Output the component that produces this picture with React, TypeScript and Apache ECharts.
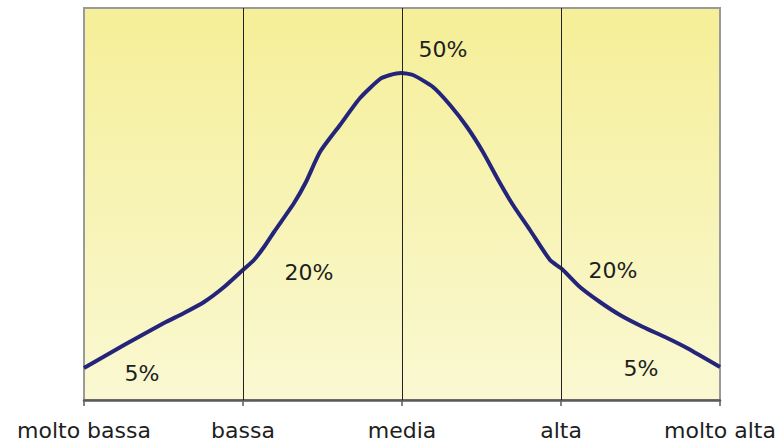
import React, { useEffect, useRef } from "react";
import * as echarts from "echarts";

const categories = ["molto bassa", "bassa", "media", "alta", "molto alta"];

// curve positions in category units (0..4) and height values
const curveX = [0, 0.252, 0.503, 0.629, 0.755, 0.881, 1.006, 1.069, 1.132, 1.195, 1.321, 1.396, 1.484, 1.61, 1.736, 1.862, 1.925, 1.994, 2.069, 2.195, 2.302, 2.409, 2.509, 2.616, 2.698, 2.805, 2.931, 3.006, 3.119, 3.245, 3.371, 3.516, 3.667, 3.792, 4];
const curveY = [32, 55, 77, 87, 98, 113, 131, 140, 153, 168, 197, 218, 248, 275, 302, 321, 325, 327, 325, 313, 295, 273, 248, 217, 195, 170, 140, 131, 113, 98, 85, 73, 62, 52, 33];

const labelTexts = ["5%", "20%", "50%", "20%", "5%"];
const labelX = [0.365, 1.415, 2.258, 3.327, 3.503];
const labelY = [27, 128, 351, 130, 32];

const dividers = [1, 2, 3];

export default function App() {
  const ref = useRef<HTMLDivElement>(null);
  useEffect(() => {
    if (!ref.current) return;
    const chart = echarts.init(ref.current, null, { renderer: "svg" });
    const font = "DejaVu Sans";
    chart.setOption({
      animation: false,
      grid: {
        left: 84,
        right: 60,
        top: 8,
        bottom: 41,
        show: true,
        borderColor: "#9a9a9a",
        borderWidth: 2,
        backgroundColor: new echarts.graphic.LinearGradient(0, 0, 0, 1, [
          { offset: 0, color: "#F5EF98" },
          { offset: 1, color: "#FAF8D2" },
        ]),
      },
      xAxis: {
        type: "value",
        min: 0,
        max: 4,
        interval: 1,
        axisLine: { show: true, lineStyle: { color: "#5a5a5a", width: 2.5 } },
        axisTick: { show: true, length: 6, lineStyle: { color: "#5a5a5a", width: 1.5 } },
        splitLine: { show: false },
        axisLabel: {
          formatter: (v: number) => categories[Math.round(v)] ?? "",
          color: "#1e1e1e",
          fontFamily: font,
          fontSize: 22,
          margin: 19,
          showMinLabel: true,
          showMaxLabel: true,
        },
      },
      yAxis: {
        type: "value",
        min: 0,
        max: 392,
        show: false,
        splitLine: { show: false },
      },
      series: [
        {
          type: "line",
          data: [],
          z: 1,
          markLine: {
            silent: true,
            symbol: "none",
            label: { show: false },
            lineStyle: { color: "#222", width: 1, type: "solid", opacity: 1 },
            data: dividers.map((d) => ({ xAxis: d })),
          },
        },
        {
          type: "line",
          z: 3,
          smooth: 0.2,
          showSymbol: false,
          symbol: "none",
          lineStyle: { color: "#24247A", width: 4 },
          data: curveX.map((x, i) => [x, curveY[i]]),
        },
        {
          type: "scatter",
          z: 4,
          symbolSize: 0,
          silent: true,
          itemStyle: { opacity: 1 },
          data: labelX.map((x, i) => [x, labelY[i], labelTexts[i]]),
          label: {
            show: true,
            position: "inside",
            formatter: (p: any) => p.data[2],
            color: "#1e1e1e",
            opacity: 1,
            fontFamily: font,
            fontSize: 22,
          },
        },
      ],
    });
    return () => chart.dispose();
  }, []);
  return (
    <div
      ref={ref}
      style={{ position: "absolute", left: 0, top: 0, width: 780, height: 441 }}
    />
  );
}
